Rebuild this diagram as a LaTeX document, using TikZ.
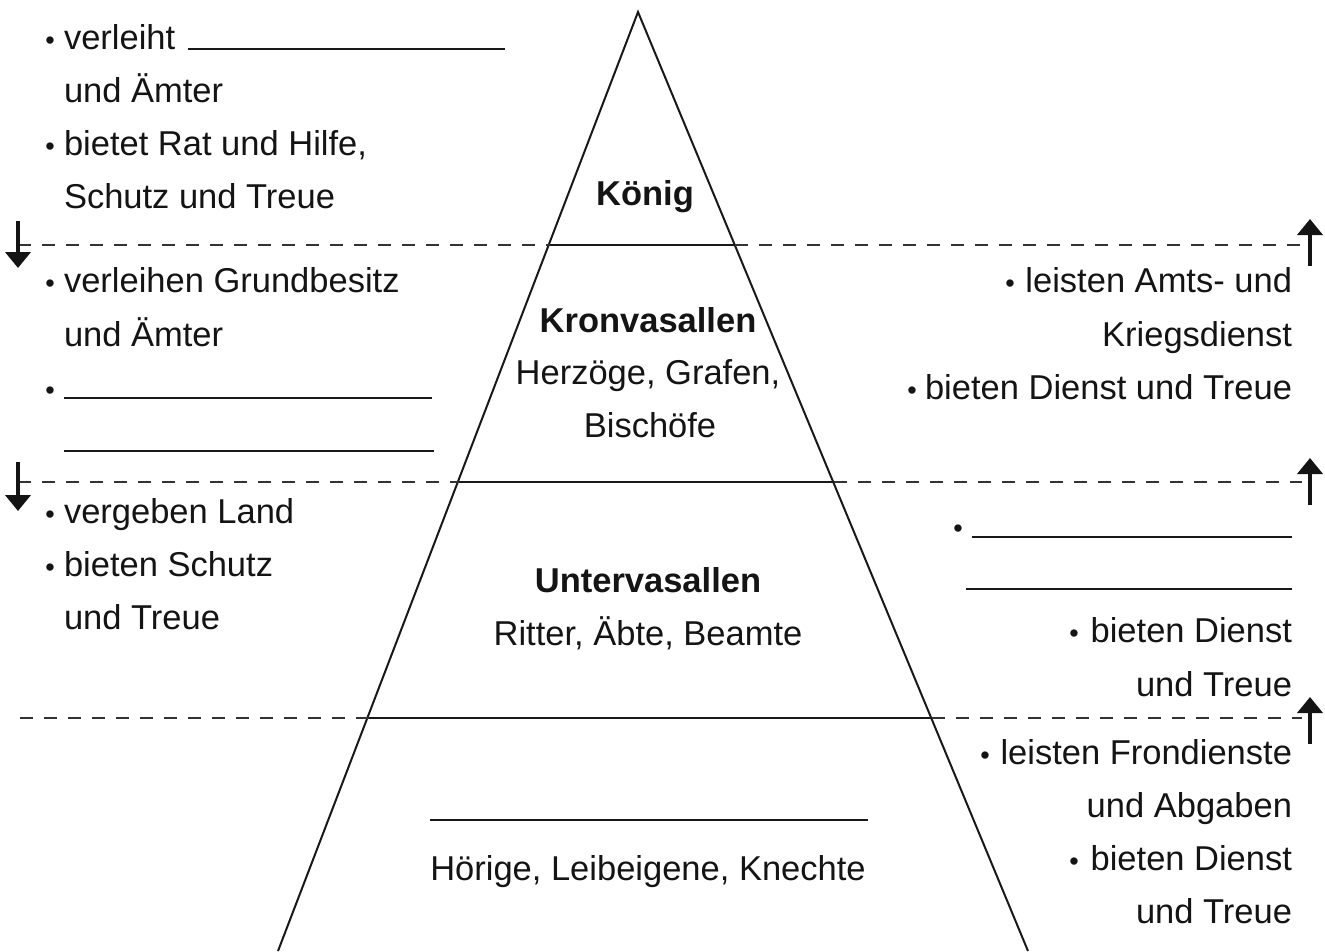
\documentclass[tikz,border=0pt]{standalone}
\usepackage{fontspec}
\setmainfont{Liberation Sans}
\usetikzlibrary{arrows.meta}
\begin{document}
\begin{tikzpicture}[x=1pt,y=-1pt,
  every node/.style={inner sep=0pt,outer sep=0pt,font=\fontsize{34.5}{40}\selectfont,text=black!92},
  lt/.style={anchor=base west},
  rt/.style={anchor=base east},
  ct/.style={anchor=base},
  bl/.style={anchor=base,font=\fontsize{27}{27}\selectfont},
  pyr/.style={line width=2pt,black!90},
  dsh/.style={line width=1.3pt,black!80,dash pattern=on 13pt off 11pt},
  blank/.style={line width=1.4pt,black!90},
  arr/.style={line width=4.5pt,black!92,-{Triangle[width=25pt,length=16pt]}}]
\useasboundingbox (0,0) rectangle (1325,951);
% pyramid
\coordinate (apex) at (638,12);
\coordinate (L0) at (278,951); \coordinate (R0) at (1028,951);
\coordinate (L1) at (550,245); \coordinate (R1) at (735,245);
\coordinate (L2) at (459,482); \coordinate (R2) at (834,482);
\coordinate (L3) at (369,718); \coordinate (R3) at (932,718);
\draw[pyr] (L0) -- (apex) -- (R0);
\draw[pyr] (L1) -- (R1);
\draw[pyr] (L2) -- (R2);
\draw[pyr] (L3) -- (R3);
% dashed lines
\coordinate (dl1) at (18,245); \coordinate (dr1) at (1302,245);
\coordinate (dl2) at (18,482); \coordinate (dr2) at (1302,482);
\coordinate (dl3) at (20,718); \coordinate (dr3) at (1302,718);
\draw[dsh] (dl1) -- (L1); \draw[dsh] (R1) -- (dr1);
\draw[dsh] (dl2) -- (L2); \draw[dsh] (R2) -- (dr2);
\draw[dsh] (dl3) -- (L3); \draw[dsh] (R3) -- (dr3);
% arrows
\coordinate (a1s) at (18,221); \coordinate (a1e) at (18,268);
\coordinate (a2s) at (18,462); \coordinate (a2e) at (18,511);
\coordinate (b1s) at (1310,266); \coordinate (b1e) at (1310,219);
\coordinate (b2s) at (1310,505); \coordinate (b2e) at (1310,458);
\coordinate (b3s) at (1310,744); \coordinate (b3e) at (1310,697);
\draw[arr] (a1s) -- (a1e);
\draw[arr] (a2s) -- (a2e);
\draw[arr] (b1s) -- (b1e);
\draw[arr] (b2s) -- (b2e);
\draw[arr] (b3s) -- (b3e);
% centre texts
\node[ct,font=\fontsize{34.5}{40}\selectfont\bfseries] (koenig) at (645,205) {König};
\node[ct,font=\fontsize{34.5}{40}\selectfont\bfseries] (kron) at (648,332) {Kronvasallen};
\node[ct] (herz) at (648,384) {Herzöge, Grafen,};
\node[ct] (bisch) at (650,437) {Bischöfe};
\node[ct,font=\fontsize{34.5}{40}\selectfont\bfseries] (unter) at (648,592) {Untervasallen};
\node[ct] (ritter) at (648,645) {Ritter, Äbte, Beamte};
\coordinate (c1a) at (430,820); \coordinate (c1b) at (868,820);
\draw[blank] (c1a) -- (c1b);
\node[ct] (hoer) at (648,880) {Hörige, Leibeigene, Knechte};
% left texts
\node[bl] (lb1) at (50,49) {•};
\node[lt] (l1) at (64,49) {verleiht};
\coordinate (u1a) at (188,49); \coordinate (u1b) at (505,49);
\draw[blank] (u1a) -- (u1b);
\node[lt] (l2) at (64,102) {und Ämter};
\node[bl] (lb2) at (50,155) {•};
\node[lt] (l3) at (64,155) {bietet Rat und Hilfe,};
\node[lt] (l4) at (64,208) {Schutz und Treue};
\node[bl] (lb3) at (50,292) {•};
\node[lt] (l5) at (64,292) {verleihen Grundbesitz};
\node[lt] (l6) at (64,346) {und Ämter};
\node[bl] (lb4) at (50,399) {•};
\coordinate (u2a) at (64,398); \coordinate (u2b) at (432,398);
\draw[blank] (u2a) -- (u2b);
\coordinate (u3a) at (64,451); \coordinate (u3b) at (434,451);
\draw[blank] (u3a) -- (u3b);
\node[bl] (lb5) at (50,523) {•};
\node[lt] (l7) at (64,523) {vergeben Land};
\node[bl] (lb6) at (50,576) {•};
\node[lt] (l8) at (64,576) {bieten Schutz};
\node[lt] (l9) at (64,629) {und Treue};
% right texts
\node[rt] (r1) at (1292,292) {leisten Amts- und};
\node[bl] (rb1) at (1010,292) {•};
\node[rt] (r2) at (1292,346) {Kriegsdienst};
\node[rt] (r3) at (1292,399) {bieten Dienst und Treue};
\node[bl] (rb2) at (912,399) {•};
\node[bl] (rb3) at (958,537) {•};
\coordinate (u4a) at (972,537); \coordinate (u4b) at (1292,537);
\draw[blank] (u4a) -- (u4b);
\coordinate (u5a) at (966,589); \coordinate (u5b) at (1292,589);
\draw[blank] (u5a) -- (u5b);
\node[rt] (r4) at (1292,642) {bieten Dienst};
\node[bl] (rb4) at (1074,642) {•};
\node[rt] (r5) at (1292,696) {und Treue};
\node[rt] (r6) at (1292,764) {leisten Frondienste};
\node[bl] (rb5) at (985,764) {•};
\node[rt] (r7) at (1292,817) {und Abgaben};
\node[rt] (r8) at (1292,870) {bieten Dienst};
\node[bl] (rb6) at (1074,870) {•};
\node[rt] (r9) at (1292,923) {und Treue};
\end{tikzpicture}
\end{document}
